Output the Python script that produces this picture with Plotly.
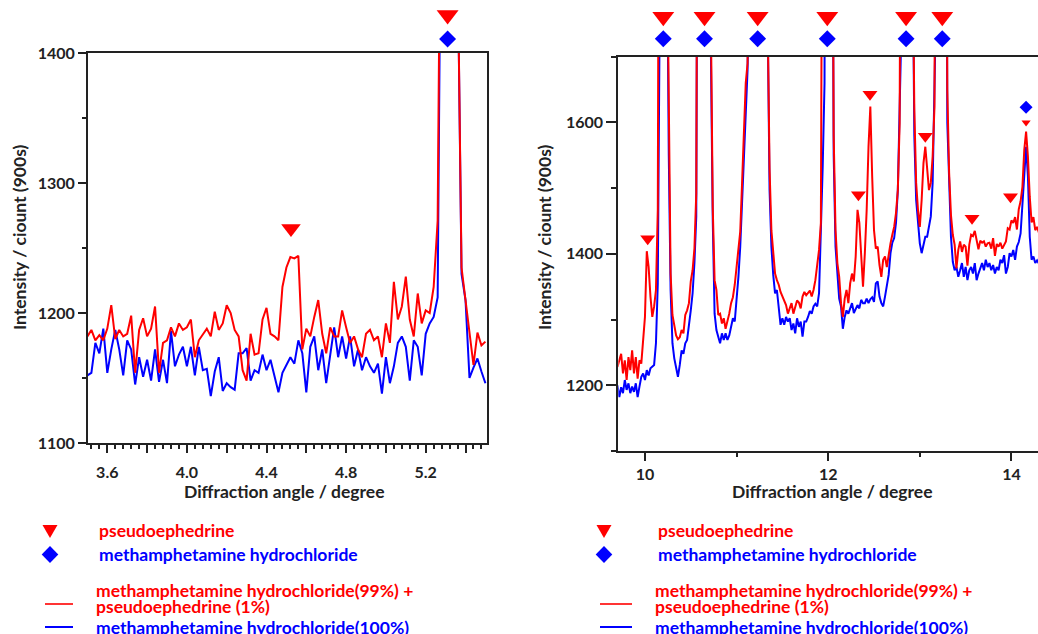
import numpy as np
import plotly.graph_objects as go

W, H = 1038, 634
RED = "#ff0000"
BLUE = "#0000ff"
INK = "#222222"
FONT = "Lato"

# ---- step-scan grids (2θ, degree) ----
angle_left = np.round(np.arange(3.50, 5.5001, 0.02), 2)
angle_right = np.round(np.arange(9.70, 14.3001, 0.02), 2)

# ---- low-angle window: intensity / count (900 s) ----
mix_left = [
    1182, 1187, 1179, 1183, 1179, 1188, 1206, 1180, 1187, 1182,
    1184, 1198, 1154, 1187, 1196, 1182, 1188, 1205, 1154, 1177,
    1179, 1189, 1182, 1192, 1187, 1189, 1195, 1166, 1179, 1184,
    1188, 1182, 1201, 1187, 1192, 1206, 1200, 1187, 1182, 1156,
    1148, 1184, 1168, 1169, 1195, 1204, 1184, 1182, 1179, 1220,
    1235, 1243, 1242, 1244, 1172, 1188, 1182, 1197, 1210, 1184,
    1169, 1189, 1182, 1182, 1202, 1189, 1177, 1182, 1172, 1166,
    1184, 1187, 1179, 1182, 1166, 1192, 1177, 1224, 1195, 1205,
    1228, 1195, 1182, 1215, 1192, 1202, 1200, 1220, 1271, 1650,
    2600, 2600, 1900, 1480, 1235, 1210, 1184, 1160, 1185, 1175,
    1178,
]
pure_left = [
    1152, 1154, 1177, 1169, 1188, 1154, 1172, 1187, 1172, 1152,
    1179, 1172, 1145, 1166, 1151, 1164, 1148, 1172, 1147, 1164,
    1146, 1186, 1159, 1168, 1174, 1159, 1174, 1152, 1174, 1156,
    1157, 1136, 1155, 1166, 1140, 1146, 1143, 1141, 1169, 1169,
    1173, 1148, 1156, 1154, 1168, 1156, 1164, 1152, 1139, 1154,
    1160, 1166, 1161, 1179, 1169, 1139, 1174, 1182, 1156, 1172,
    1146, 1168, 1189, 1166, 1182, 1165, 1182, 1159, 1172, 1156,
    1166, 1159, 1154, 1161, 1138, 1166, 1146, 1159, 1177, 1182,
    1174, 1148, 1179, 1174, 1152, 1184, 1192, 1197, 1212, 1600,
    2600, 2600, 1900, 1480, 1230, 1210, 1150, 1158, 1165, 1155,
    1146,
]

# ---- high-angle window ----
mix_right = [
    1228, 1240, 1248, 1218, 1238, 1208, 1243, 1223, 1253, 1218,
    1243, 1210, 1238, 1233, 1264, 1304, 1404, 1380, 1335, 1304,
    1320, 1345, 1467, 1750, 3000, 4500, 3500, 1900, 1600, 1370,
    1307, 1292, 1276, 1270, 1273, 1284, 1279, 1307, 1314, 1325,
    1358, 1375, 1408, 1492, 1650, 2200, 3500, 5000, 4500, 3000,
    2000, 1750, 1470, 1360, 1345, 1307, 1309, 1294, 1302, 1286,
    1297, 1309, 1325, 1334, 1353, 1378, 1406, 1434, 1508, 1589,
    1660, 1690, 1850, 2300, 3200, 4200, 5000, 5000, 4200, 3200,
    2400, 2000, 1750, 1530, 1436, 1406, 1370, 1360, 1353, 1342,
    1335, 1330, 1322, 1309, 1317, 1325, 1309, 1320, 1329, 1326,
    1317, 1335, 1342, 1337, 1340, 1344, 1335, 1345, 1360, 1388,
    1406, 1447, 1584, 1685, 2500, 4500, 4000, 2200, 1580, 1436,
    1386, 1365, 1325, 1304, 1332, 1345, 1325, 1355, 1370, 1358,
    1396, 1467, 1447, 1386, 1350, 1401, 1467, 1563, 1624, 1518,
    1436, 1408, 1411, 1383, 1365, 1391, 1396, 1380, 1401, 1416,
    1429, 1441, 1462, 1497, 1599, 1750, 2600, 4000, 5000, 4000,
    2600, 1900, 1620, 1508, 1467, 1441, 1482, 1538, 1563, 1528,
    1497, 1508, 1548, 1624, 1800, 3000, 4500, 5000, 4000, 2500,
    1650, 1523, 1459, 1429, 1414, 1378, 1406, 1419, 1403, 1414,
    1411, 1382, 1414, 1429, 1427, 1435, 1421, 1407, 1420, 1417,
    1419, 1411, 1416, 1417, 1408, 1424, 1397, 1415, 1411, 1417,
    1408, 1415, 1419, 1439, 1437, 1451, 1447, 1456, 1437, 1468,
    1480, 1502, 1558, 1586, 1548, 1487, 1448, 1456, 1436, 1441,
    1432,
]
pure_right = [
    1200, 1182, 1197, 1188, 1208, 1193, 1203, 1188, 1198, 1190,
    1203, 1182, 1198, 1213, 1218, 1208, 1223, 1215, 1226, 1228,
    1231, 1264, 1355, 1750, 3000, 4500, 3500, 1900, 1550, 1345,
    1264, 1241, 1228, 1213, 1231, 1253, 1248, 1264, 1269, 1289,
    1314, 1340, 1386, 1457, 1599, 2200, 3500, 5000, 4500, 3000,
    2000, 1700, 1450, 1309, 1284, 1274, 1264, 1279, 1269, 1279,
    1269, 1276, 1289, 1302, 1297, 1327, 1365, 1411, 1477, 1548,
    1609, 1680, 1850, 2300, 3200, 4200, 5000, 5000, 4200, 3200,
    2400, 2000, 1750, 1497, 1411, 1368, 1340, 1345, 1320, 1292,
    1302, 1292, 1304, 1297, 1302, 1284, 1294, 1279, 1302, 1289,
    1297, 1274, 1297, 1297, 1304, 1313, 1309, 1320, 1324, 1320,
    1340, 1426, 1533, 1660, 2500, 4500, 4000, 2200, 1550, 1411,
    1365, 1332, 1320, 1286, 1304, 1314, 1309, 1318, 1325, 1310,
    1317, 1322, 1317, 1330, 1325, 1325, 1332, 1325, 1331, 1334,
    1327, 1355, 1358, 1335, 1325, 1320, 1335, 1355, 1368, 1401,
    1417, 1424, 1447, 1497, 1594, 1750, 2600, 4000, 5000, 4000,
    2600, 1900, 1580, 1482, 1441, 1416, 1401, 1416, 1426, 1426,
    1439, 1457, 1508, 1609, 1800, 3000, 4500, 5000, 4000, 2500,
    1600, 1497, 1426, 1388, 1375, 1380, 1365, 1375, 1386, 1365,
    1380, 1360, 1375, 1380, 1370, 1386, 1360, 1370, 1380, 1386,
    1375, 1391, 1380, 1386, 1375, 1383, 1370, 1380, 1375, 1391,
    1386, 1398, 1370, 1380, 1401, 1396, 1406, 1391, 1411, 1418,
    1431, 1472, 1518, 1563, 1518, 1426, 1391, 1396, 1386, 1390,
    1385,
]

# ---- reflection assignments ----
# strong reflections shared by both phases (marked in a strip above the frame)
shared_left = [5.31]
shared_right = [10.20, 10.65, 11.23, 11.99, 12.85, 13.245]
# pseudoephedrine-only reflections: angle and marker height
pse_left_x = [4.523]
pse_left_y = [1265]
pse_right_x = [10.03, 12.33, 12.456, 13.06, 13.57, 13.99]
pse_right_y = [1423, 1490, 1643, 1579, 1454, 1487]
# weak pair at 14.16
weak_x = [14.16]
weak_pse_y = [1600]
weak_mah_y = [1623]

LABEL_PSE = "pseudoephedrine"
LABEL_MAH = "methamphetamine hydrochloride"
LABEL_MIX_1 = "methamphetamine hydrochloride(99%) +"
LABEL_MIX_2 = "pseudoephedrine (1%)"
LABEL_PURE = "methamphetamine hydrochloride(100%)"
X_TITLE = "Diffraction angle / degree"
Y_TITLE = "Intensity / ciount (900s)"

fig = go.Figure()

# spectra
for ang, pure, mix, xa, ya in [
    (angle_left, pure_left, mix_left, "x", "y"),
    (angle_right, pure_right, mix_right, "x2", "y2"),
]:
    fig.add_trace(go.Scatter(x=ang, y=pure, mode="lines", xaxis=xa, yaxis=ya,
                             line=dict(color=BLUE, width=2)))
    fig.add_trace(go.Scatter(x=ang, y=mix, mode="lines", xaxis=xa, yaxis=ya,
                             line=dict(color=RED, width=2)))


def mark(x, y, symbol, color, size, xa, ya):
    fig.add_trace(go.Scatter(x=x, y=y, mode="markers", xaxis=xa, yaxis=ya,
                             marker=dict(symbol=symbol, color=color, size=size,
                                         line=dict(width=0))))


# marker strips above each frame (strip y = pixels above the frame top)
mark(shared_left, [38] * len(shared_left), "triangle-down", RED, 19, "x", "y3")
mark(shared_left, [14] * len(shared_left), "diamond", BLUE, 13, "x", "y3")
mark(shared_right, [40] * len(shared_right), "triangle-down", RED, 19, "x2", "y4")
mark(shared_right, [18] * len(shared_right), "diamond", BLUE, 13, "x2", "y4")
# single-phase reflections inside the frames
mark(pse_left_x, pse_left_y, "triangle-down", RED, 17, "x", "y")
mark(pse_right_x, pse_right_y, "triangle-down", RED, 13, "x2", "y2")
mark(weak_x, weak_pse_y, "triangle-down", RED, 8, "x2", "y2")
mark(weak_x, weak_mah_y, "diamond", BLUE, 10, "x2", "y2")


# ---- keys under each panel (pixel layout -> paper coordinates) ----
def px(x):
    return x / W


def py(y):
    return 1 - y / H


annotations = []
shapes = []


def text(x, y, s, color, size=17.5, angle=0, xanchor="left"):
    annotations.append(dict(x=px(x), y=py(y), xref="paper", yref="paper", text=s,
                            showarrow=False, xanchor=xanchor, yanchor="middle",
                            textangle=angle,
                            font=dict(family=FONT, size=size, color=color, weight="bold")))


def poly(points, color):
    path = "M " + " L ".join(f"{px(a):.5f},{py(b):.5f}" for a, b in points) + " Z"
    shapes.append(dict(type="path", path=path, xref="paper", yref="paper",
                       fillcolor=color, line=dict(width=0)))


def seg(x0, x1, y, color, width):
    shapes.append(dict(type="line", x0=px(x0), x1=px(x1), y0=py(y), y1=py(y),
                       xref="paper", yref="paper", line=dict(color=color, width=width)))


for sym_x, txt_x, ln0, ln1, ln_txt in [(50, 97, 45, 73, 94), (604, 656, 600, 632, 653)]:
    poly([(sym_x - 7.5, 525), (sym_x + 7.5, 525), (sym_x, 538)], RED)
    poly([(sym_x, 546), (sym_x + 8.3, 554.5), (sym_x, 563), (sym_x - 8.3, 554.5)], BLUE)
    seg(ln0, ln1, 604, RED, 1.6)
    seg(ln0, ln1, 627, BLUE, 2)
    text(txt_x, 530, LABEL_PSE, RED)
    text(txt_x, 554, LABEL_MAH, BLUE)
    text(ln_txt, 590, LABEL_MIX_1, RED)
    text(ln_txt, 606, LABEL_MIX_2, RED)
    text(ln_txt, 627, LABEL_PURE, BLUE)

# axis titles
for cx in (284, 832):
    text(cx, 492, X_TITLE, INK, xanchor="center")
for cx in (19, 544):
    text(cx, 238, Y_TITLE, INK, angle=-90, xanchor="center")

tickfont = dict(family=FONT, size=16, color=INK, weight="bold")
axis_common = dict(showline=True, linewidth=2, linecolor=INK, ticks="outside",
                   tickwidth=2, tickcolor=INK, showgrid=False, zeroline=False,
                   tickfont=tickfont, fixedrange=True, automargin=False)
strip_common = dict(visible=False, fixedrange=True, automargin=False)

left_major = [3.6, 3.8, 4.0, 4.2, 4.4, 4.6, 4.8, 5.0, 5.2, 5.4]
left_major_text = ["3.6", "", "4.0", "", "4.4", "", "4.8", "", "5.2", ""]

L_TOP, L_BOT = 53, 443
R_TOP, R_BOT = 56.7, 451

fig.update_layout(
    width=W, height=H, margin=dict(l=0, r=0, t=0, b=0, autoexpand=False),
    paper_bgcolor="white", plot_bgcolor="rgba(0,0,0,0)", showlegend=False,
    font=dict(family=FONT, size=16, color=INK),
    annotations=annotations, shapes=shapes,
    xaxis=dict(domain=[88 / W, 487 / W], range=[3.503, 5.508], anchor="y", mirror=True,
               tickmode="array", tickvals=left_major, ticktext=left_major_text, ticklen=8,
               ticklabelstandoff=6,
               minor=dict(ticks="outside", tickmode="linear", tick0=3.52, dtick=0.04,
                          ticklen=4, tickwidth=1.5, tickcolor=INK),
               **axis_common),
    yaxis=dict(domain=[1 - L_BOT / H, 1 - L_TOP / H], range=[1100, 1400], anchor="x",
               mirror=True, tickmode="linear", tick0=1100, dtick=100, ticklen=8,
               minor=dict(ticks="outside", tickmode="linear", tick0=1150, dtick=100,
                          ticklen=4, tickwidth=1.5, tickcolor=INK),
               **axis_common),
    xaxis2=dict(domain=[618.3 / W, 1.0], range=[9.709, 14.29], anchor="y2", mirror=True,
                tickmode="linear", tick0=10, dtick=2, ticklen=8,
                minor=dict(ticks="outside", tickmode="linear", tick0=11, dtick=2,
                           ticklen=4, tickwidth=1.5, tickcolor=INK),
                **axis_common),
    yaxis2=dict(domain=[1 - R_BOT / H, 1 - R_TOP / H], range=[1100, 1700], anchor="x2",
                tickmode="linear", tick0=1200, dtick=200, ticklen=10,
                minor=dict(ticks="outside", tickmode="linear", tick0=1100, dtick=200,
                           ticklen=5, tickwidth=1.5, tickcolor=INK),
                **axis_common),
    yaxis3=dict(domain=[1 - L_TOP / H, 1], range=[0, L_TOP], anchor="x", **strip_common),
    yaxis4=dict(domain=[1 - R_TOP / H, 1], range=[0, R_TOP], anchor="x2", **strip_common),
)

fig.write_html("out.html")
